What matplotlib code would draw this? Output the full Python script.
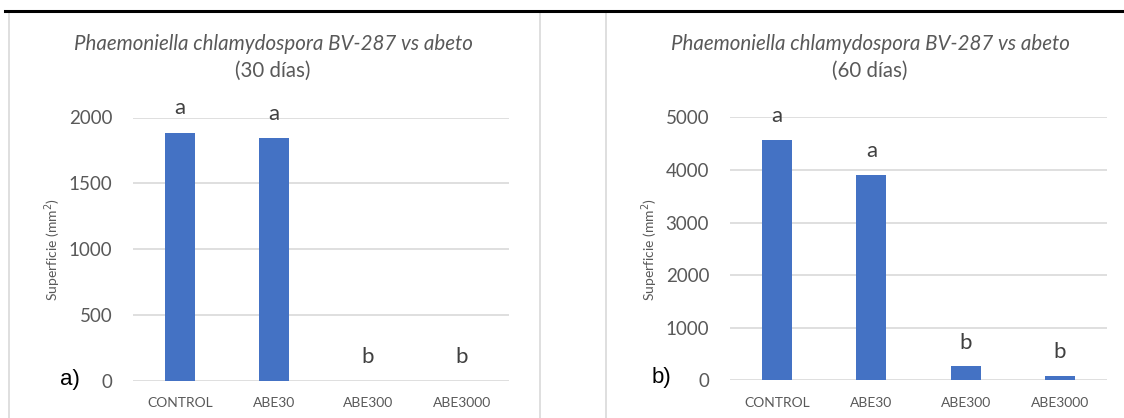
import matplotlib.pyplot as plt
from matplotlib.lines import Line2D

categories = ["CONTROL", "ABE30", "ABE300", "ABE3000"]
area_30 = [1884, 1842, 0, 0]
area_60 = [4570, 3905, 276, 80]
letters_30 = ["a", "a", "b", "b"]
letters_60 = ["a", "a", "b", "b"]
letter_y_30 = [2027, 1981, 133, 133]
letter_y_60 = [4910, 4245, 600, 420]

W, H = 1124, 418
bar_color = "#4472C4"
grid_color = "#D9D9D9"
text_gray = "#595959"
font = "Lato"


def px_axes(fig, left, top, right, bottom):
    return fig.add_axes([left / W, 1 - bottom / H, (right - left) / W, (bottom - top) / H])


def fig_text(fig, x, y, s, **kw):
    return fig.text(x / W, 1 - y / H, s, ha="center", va="center", **kw)


def draw_panel(ax, values, letters, letter_y, ymax, step):
    x = range(len(categories))
    ax.bar(x, values, width=0.32, color=bar_color, zorder=3)
    ax.set_xlim(-0.5, len(categories) - 0.5)
    ax.set_ylim(0, ymax)
    ax.set_yticks(range(0, ymax + 1, step))
    ax.set_xticks(list(x))
    ax.set_xticklabels(categories, fontsize=10, color=text_gray, family=font)
    for lab in ax.get_yticklabels():
        lab.set_fontsize(13.5)
        lab.set_color(text_gray)
        lab.set_family(font)
    ax.tick_params(axis="y", length=0, pad=15)
    ax.tick_params(axis="x", length=0, pad=12)
    ax.grid(axis="y", color=grid_color, lw=1.2, zorder=0)
    for s in ax.spines.values():
        s.set_visible(False)
    for i, (t, yv) in enumerate(zip(letters, letter_y)):
        ax.text(i, yv, t, ha="center", va="baseline", fontsize=16, color="#404040",
                family=font, clip_on=False)


fig = plt.figure(figsize=(W / 100, H / 100), dpi=100)

ax1 = px_axes(fig, 133, 117.5, 509, 380.5)
draw_panel(ax1, area_30, letters_30, letter_y_30, 2000, 500)

ax2 = px_axes(fig, 730, 117.3, 1107, 380.3)
draw_panel(ax2, area_60, letters_60, letter_y_60, 5000, 1000)

# titles, axis labels and panel tags
for cx, days in ((273, "(30 días)"), (870, "(60 días)")):
    fig_text(fig, cx, 44, "Phaemoniella chlamydospora BV-287 vs abeto",
             fontsize=14.8, style="italic", color=text_gray, family=font)
    fig_text(fig, cx, 71, days, fontsize=14.8, color=text_gray, family=font)

for lx in (53, 650):
    fig_text(fig, lx, 250, "Superficie (mm$^2$)", rotation=90, fontsize=10,
             color=text_gray, family=font)

fig_text(fig, 70, 379, "a)", fontsize=16, color="black", family="Liberation Sans")
fig_text(fig, 661, 377, "b)", fontsize=16, color="black", family="Liberation Sans")

# panel frames and top rule
for xp in (9, 540, 606):
    fig.add_artist(Line2D([xp / W, xp / W], [0, 1 - 11 / H], color=grid_color, lw=1.2))
fig.add_artist(Line2D([5 / W, 1], [1 - 11 / H, 1 - 11 / H], color="black", lw=2.2))

fig.savefig("out.png", dpi=100)
